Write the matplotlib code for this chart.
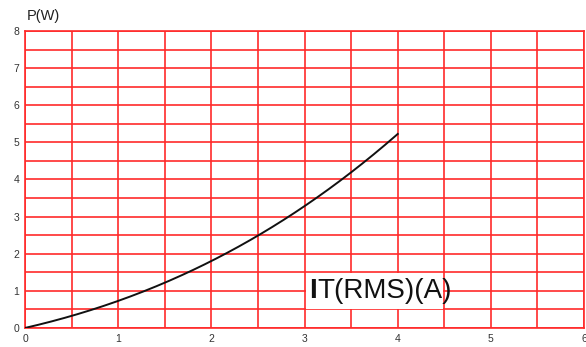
import matplotlib.pyplot as plt
from matplotlib.patches import Rectangle
import numpy as np

plt.rcParams['font.family'] = ['Liberation Sans', 'DejaVu Sans']

# current (A) vs power (W)
current = [0, 0.5, 1.0, 1.5, 2.0, 2.5, 3.0, 3.5, 4.0]
power = [0, 0.33, 0.72, 1.23, 1.82, 2.45, 3.3, 4.2, 5.22]
x_ticks = [0, 1, 2, 3, 4, 5, 6]
y_ticks = [0, 1, 2, 3, 4, 5, 6, 7, 8]

fig = plt.figure(figsize=(5.86, 3.47), dpi=100)
ax = fig.add_axes([0.0427, 0.0548, 0.954, 0.856])

# smooth curve through the read points
xs = np.linspace(0, 4, 200)
coef = np.polyfit(current, power, 3)
ax.plot(xs, np.polyval(coef, xs), color="#111111", lw=1.4, zorder=3)

ax.set_xlim(0, 6)
ax.set_ylim(0, 8)
grid_x = np.arange(0, 6.01, 0.5)
grid_y = np.arange(0, 8.01, 0.5)
ax.set_xticks(grid_x)
ax.set_yticks(grid_y)
ax.set_xticklabels([str(int(v)) if v in x_ticks else "" for v in grid_x])
ax.set_yticklabels([str(int(v)) if v in y_ticks else "" for v in grid_y])
ax.grid(True, color="#ff2a2a", lw=1.2)
ax.tick_params(length=0, labelsize=7.5, colors="#333333", pad=4)
for s in ax.spines.values():
    s.set_color("#ff2a2a")
    s.set_linewidth(1.2)

fig.text(0.046, 0.955, "P(W)", fontsize=10.5, ha="left", va="center", color="#222222")

# white label box over the grid
ax.add_patch(Rectangle((3.015, 0.52), 1.47, 0.96, facecolor="white",
                       edgecolor="none", zorder=2))
t1 = ax.text(3.05, 1.0, "I", fontsize=20, fontweight="bold", ha="left",
             va="center", color="#111111", zorder=4)
fig.canvas.draw()
bb = t1.get_window_extent().transformed(ax.transData.inverted())
ax.text(bb.x1, 1.0, "T(RMS)(A)", fontsize=20, ha="left", va="center",
        color="#111111", zorder=4)

fig.savefig("out.png", dpi=100)
